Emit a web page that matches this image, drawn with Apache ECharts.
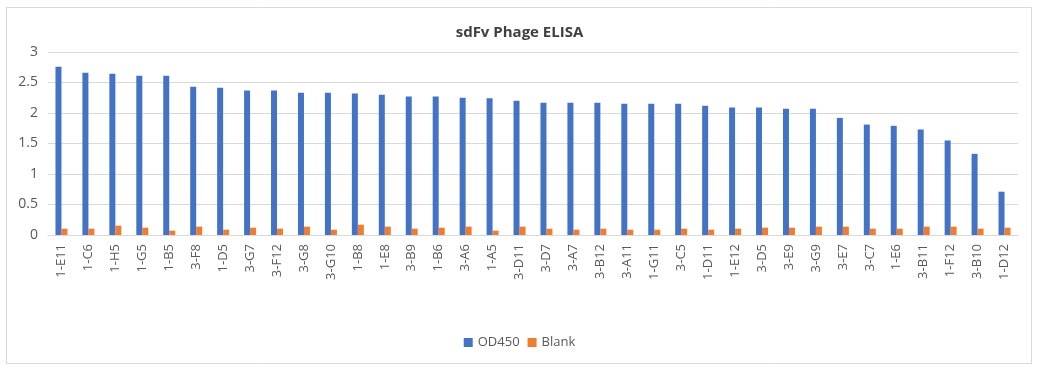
<!DOCTYPE html>
<html><head><meta charset="utf-8">
<script src="https://cdn.jsdelivr.net/npm/echarts@6/dist/echarts.min.js"></script>
<style>html,body{margin:0;padding:0;background:#fff}#c{width:1039px;height:370px}</style>
</head><body><div id="c"></div>
<script>
const categories = ["1-E11","1-C6","1-H5","1-G5","1-B5","3-F8","1-D5","3-G7","3-F12","3-G8","3-G10","1-B8","1-E8","3-B9","1-B6","3-A6","1-A5","3-D11","3-D7","3-A7","3-B12","3-A11","1-G11","3-C5","1-D11","1-E12","3-D5","3-E9","3-G9","3-E7","3-C7","1-E6","3-B11","1-F12","3-B10","1-D12"];
const od450 = [2.76,2.66,2.645,2.61,2.61,2.43,2.415,2.37,2.37,2.33,2.33,2.32,2.30,2.27,2.27,2.25,2.24,2.20,2.17,2.17,2.17,2.15,2.15,2.15,2.12,2.09,2.09,2.07,2.07,1.92,1.81,1.79,1.73,1.55,1.33,0.71];
const blank = [0.104,0.104,0.153,0.12,0.071,0.137,0.087,0.12,0.104,0.137,0.087,0.169,0.137,0.104,0.12,0.137,0.071,0.137,0.104,0.087,0.104,0.087,0.087,0.104,0.087,0.104,0.12,0.12,0.137,0.137,0.104,0.104,0.137,0.137,0.104,0.12];
const yTicks = [0,0.5,1,1.5,2,2.5,3];
const FONT = "'Open Sans', 'Liberation Sans', sans-serif";
const chart = echarts.init(document.getElementById('c'), null, {renderer:'canvas'});
chart.setOption({
  animation:false,
  backgroundColor:'#fff',
  graphic:[{type:'rect',shape:{x:6.5,y:7.5,width:1025,height:356},style:{fill:'none',stroke:'#d9d9d9',lineWidth:1},silent:true}],
  title:{text:'sdFv Phage ELISA',left:'center',top:20,textStyle:{fontFamily:FONT,fontSize:15,fontWeight:'bold',color:'#404040'}},
  legend:{bottom:16,left:'center',itemWidth:9,itemHeight:9,itemGap:8,icon:'rect',textStyle:{fontFamily:FONT,fontSize:13,color:'#595959'},data:['OD450','Blank']},
  grid:{left:48,right:21,top:52,bottom:135,containLabel:false},
  xAxis:{type:'category',data:categories,axisLine:{lineStyle:{color:'#d9d9d9'}},axisTick:{show:false},
    axisLabel:{rotate:90,interval:0,margin:9,fontFamily:FONT,fontSize:13,color:'#595959'}},
  yAxis:{type:'value',min:0,max:3,interval:0.5,axisLine:{show:false},axisTick:{show:false},
    splitLine:{lineStyle:{color:'#d9d9d9'}},
    axisLabel:{margin:10,fontFamily:FONT,fontSize:14,color:'#595959',formatter:v=>yTicks.includes(v)?String(v):''}},
  series:[
    {name:'OD450',type:'bar',data:od450,barWidth:6,barGap:'0%',itemStyle:{color:'#4472c4'}},
    {name:'Blank',type:'bar',data:blank,barWidth:6,barGap:'0%',itemStyle:{color:'#ed7d31'}}
  ]
});
</script></body></html>
